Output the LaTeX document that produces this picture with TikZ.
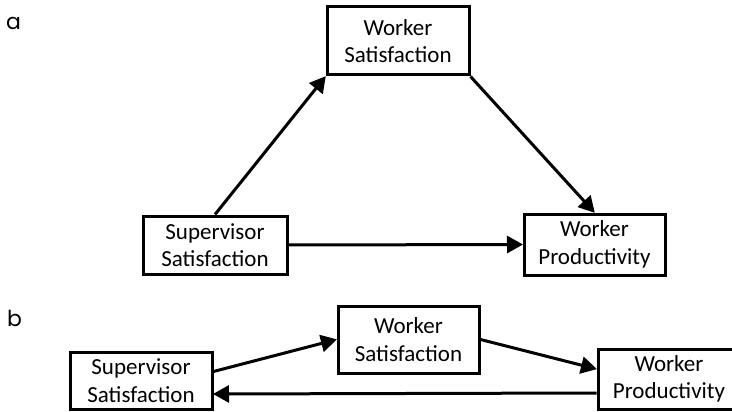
\documentclass[tikz,border=0pt]{standalone}
\usepackage{fontspec}
\setmainfont{Carlito}
\newfontfamily\panelfont{Poppins}
\usetikzlibrary{arrows.meta}
\begin{document}
\begin{tikzpicture}[x=1pt,y=-1pt,
  box/.style={draw=black,line width=3pt,fill=white,align=center,
    inner sep=0pt,font=\fontsize{23}{27.6}\selectfont},
  link/.style={line width=3pt,-{Triangle[length=16pt,width=17pt]},shorten >=-0.5pt},
  panel/.style={font=\panelfont\fontsize{22}{24}\selectfont,anchor=base west,inner sep=0pt}]
\useasboundingbox (0,0) rectangle (732,412);
\fill[white] (0,0) rectangle (732,412);

% panel a
\node[panel] (la) at (6,30) {a};
\node[box,minimum width=142pt,minimum height=68pt] (wsa) at (398,41) {Worker\\Satisfaction};
\node[box,minimum width=144pt,minimum height=58pt] (ssa) at (215,245) {Supervisor\\Satisfaction};
\node[box,minimum width=141pt,minimum height=61pt] (wpa) at (594.5,244.5) {Worker\\Productivity};
\draw[link] (ssa.north) -- (wsa.south west);
\draw[link] (wsa.south east) -- (wpa.north);
\draw[link] (ssa.east) -- (wpa.west);

% panel b
\node[panel] (lb) at (7,326) {b};
\node[box,minimum width=141pt,minimum height=67pt] (wsb) at (408.5,339.5) {Worker\\Satisfaction};
\node[box,minimum width=142pt,minimum height=57pt] (ssb) at (141,380.5) {Supervisor\\Satisfaction};
\node[box,minimum width=142pt,minimum height=60pt] (wpb) at (669,379) {Worker\\Productivity};
\draw[link] ([yshift=9pt]ssb.east) -- (wsb.west);
\draw[link] (wsb.east) -- ([yshift=10pt]wpb.west);
\draw[link] ([yshift=-14pt]wpb.west) -- ([yshift=-13.5pt]ssb.east);
\end{tikzpicture}
\end{document}
